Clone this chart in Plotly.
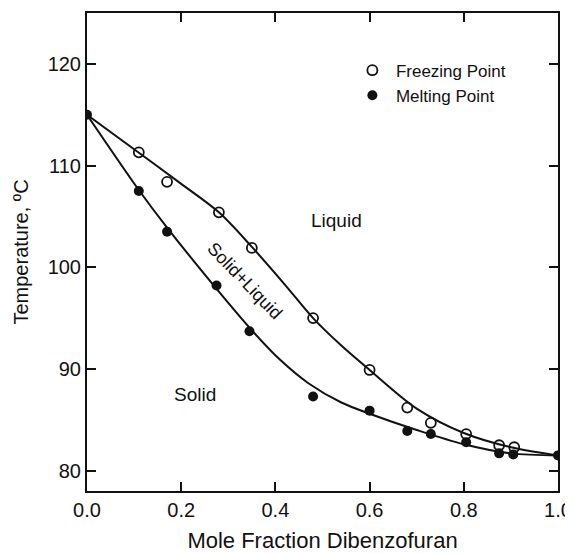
import plotly.graph_objects as go

# Measured data points
freeze_x = [0.0, 0.11, 0.17, 0.28, 0.35, 0.48, 0.60, 0.68, 0.73, 0.805, 0.875, 0.907, 1.0]
freeze_y = [115.0, 111.3, 108.4, 105.4, 101.9, 95.0, 89.9, 86.2, 84.7, 83.6, 82.5, 82.3, 81.5]

melt_x = [0.0, 0.11, 0.17, 0.275, 0.345, 0.48, 0.60, 0.68, 0.73, 0.805, 0.875, 0.905, 1.0]
melt_y = [115.0, 107.5, 103.5, 98.2, 93.7, 87.3, 85.9, 83.9, 83.6, 82.8, 81.7, 81.6, 81.5]

# Smooth fitted curves
liq_x = [0.0, 0.10, 0.20, 0.28, 0.35, 0.42, 0.48, 0.54, 0.60, 0.70, 0.80, 0.90, 1.0]
liq_y = [115.0, 111.6, 108.2, 105.4, 102.0, 98.3, 95.0, 92.3, 89.9, 86.1, 83.7, 82.3, 81.5]

sol_x = [0.0, 0.11, 0.17, 0.28, 0.35, 0.41, 0.47, 0.54, 0.60, 0.70, 0.80, 0.90, 1.0]
sol_y = [115.0, 107.6, 103.9, 97.6, 93.8, 90.9, 88.6, 86.7, 85.6, 84.0, 82.6, 81.7, 81.5]

x_ticks = [0.0, 0.2, 0.4, 0.6, 0.8, 1.0]
y_ticks = [80, 90, 100, 110, 120]

FONT = "Liberation Sans, Arial, Helvetica, sans-serif"
INK = "#111111"

fig = go.Figure()
fig.add_trace(go.Scatter(x=liq_x, y=liq_y, mode="lines", line=dict(color=INK, width=2, shape="spline", smoothing=0.9),
                         showlegend=False, hoverinfo="skip"))
fig.add_trace(go.Scatter(x=sol_x, y=sol_y, mode="lines", line=dict(color=INK, width=2, shape="spline", smoothing=0.9),
                         showlegend=False, hoverinfo="skip"))
fig.add_trace(go.Scatter(x=freeze_x[1:-1], y=freeze_y[1:-1], mode="markers", name="Freezing Point",
                         marker=dict(symbol="circle-open", size=10, color=INK, line=dict(width=1.8, color=INK))))
fig.add_trace(go.Scatter(x=melt_x, y=melt_y, mode="markers", name="Melting Point",
                         marker=dict(symbol="circle", size=10, color=INK)))

# the page body adds an 8px margin, so the figure is sized to sit inside the window
fig.update_layout(
    width=565, height=546,
    margin=dict(l=79, r=15, t=5, b=63),
    paper_bgcolor="white", plot_bgcolor="white",
    font=dict(family=FONT, color=INK, size=20),
    showlegend=True,
    legend=dict(x=0.556, y=0.917, xanchor="left", yanchor="top", bgcolor="rgba(0,0,0,0)",
                font=dict(size=17), tracegroupgap=0, itemwidth=37),
    xaxis=dict(range=[0, 1], tickvals=x_ticks, ticktext=[f"{v:.1f}" for v in x_ticks],
               showline=True, linecolor=INK, linewidth=2, mirror="ticks", automargin=False,
               ticks="inside", ticklen=9, tickwidth=2, tickcolor=INK, showgrid=False, zeroline=False,
               title=dict(text="Mole Fraction Dibenzofuran", font=dict(size=22), standoff=13)),
    yaxis=dict(range=[78, 125], tickvals=y_ticks, automargin=False,
               showline=True, linecolor=INK, linewidth=2, mirror="ticks",
               ticks="inside", ticklen=9, tickwidth=2, tickcolor=INK, showgrid=False, zeroline=False,
               title=dict(text="Temperature, ºC", font=dict(size=20), standoff=14)),
    annotations=[
        dict(x=0.53, y=104.6, text="Liquid", showarrow=False, font=dict(size=19)),
        dict(x=0.23, y=87.5, text="Solid", showarrow=False, font=dict(size=19)),
        dict(x=0.335, y=98.6, text="Solid+Liquid", showarrow=False, textangle=46, font=dict(size=18)),
    ],
)

fig.write_html("out.html")
